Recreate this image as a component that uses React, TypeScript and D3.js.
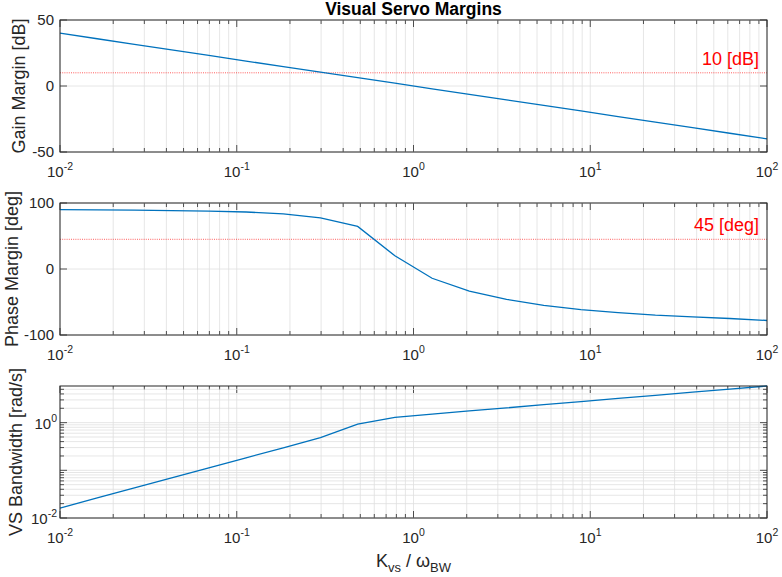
import * as d3 from "d3";

// sample points (logspace over four decades)
const kvs = [
  0.01, 0.01624, 0.02637, 0.04281, 0.06952, 0.1129, 0.1833, 0.2976, 0.4833, 0.7848,
  1.274, 2.069, 3.36, 5.456, 8.859, 14.38, 23.36, 37.93, 61.58, 100,
];
const gainMargin = [
  40, 35.8, 31.6, 27.4, 23.2, 18.9, 14.7, 10.5, 6.3, 2.1,
  -2.1, -6.3, -10.5, -14.7, -18.9, -23.2, -27.4, -31.6, -35.8, -40,
];
const phaseMargin = [
  90, 89.6, 89.1, 88.5, 87.6, 86.4, 83.5, 77.4, 64.5, 20,
  -14, -33.5, -46, -55, -61.5, -66, -70, -72.5, -75, -78,
];
const bandwidth = [
  0.0162, 0.0263, 0.0427, 0.0694, 0.113, 0.183, 0.297, 0.485, 0.93, 1.29,
  1.51, 1.76, 2.04, 2.38, 2.76, 3.22, 3.74, 4.35, 5.06, 5.87,
];

const xTicks = [0.01, 0.1, 1, 10, 100];
const gainTicks = [-50, 0, 50];
const phaseTicks = [-100, 0, 100];
const bwMajor = [0.01, 0.1, 1];
const bwLabels = [0.01, 1];
const gainLimit = 10;
const phaseLimit = 45;

const W = 782;
const H = 577;
const left = 60;
const right = 767;
const panelH = 132;
const tops = [20, 203, 386];

const FONT = "'Liberation Sans', Arial, Helvetica, sans-serif";
const AX = "#262626";
const GRID = "#dfdfdf";
const BLUE = "#0072BD";

const x = d3.scaleLog().domain([0.01, 100]).range([left, right]);
const xMinor: number[] = [];
for (let d = -2; d < 2; d++) for (let m = 2; m <= 9; m++) xMinor.push(m * Math.pow(10, d));

const exp = (v: number) => Math.round(Math.log10(v));

function Pow({ v, ...rest }: any) {
  return (
    <text {...rest}>
      <tspan>10</tspan>
      <tspan dy={-7} fontSize={10.5}>{exp(v)}</tspan>
    </text>
  );
}

function XAxis({ top }: { top: number }) {
  const bottom = top + panelH;
  return (
    <g>
      {xMinor.map((v) => (
        <g key={"m" + v}>
          <line x1={x(v)} x2={x(v)} y1={top} y2={bottom} stroke={GRID} strokeWidth={0.8} />
          <line x1={x(v)} x2={x(v)} y1={bottom} y2={bottom - 4} stroke={AX} strokeWidth={0.8} />
          <line x1={x(v)} x2={x(v)} y1={top} y2={top + 4} stroke={AX} strokeWidth={0.8} />
        </g>
      ))}
      {xTicks.map((v) => (
        <g key={"M" + v}>
          <line x1={x(v)} x2={x(v)} y1={top} y2={bottom} stroke={GRID} strokeWidth={0.8} />
          <line x1={x(v)} x2={x(v)} y1={bottom} y2={bottom - 7} stroke={AX} strokeWidth={0.8} />
          <line x1={x(v)} x2={x(v)} y1={top} y2={top + 7} stroke={AX} strokeWidth={0.8} />
          <Pow v={v} x={x(v)} y={bottom + 25} textAnchor="middle" fontSize={15} fill={AX} />
        </g>
      ))}
    </g>
  );
}

function LinearPanel({ top, domain, ticks, values, limit, limitText, label, labelX }: any) {
  const y = d3.scaleLinear().domain(domain).range([top + panelH, top]);
  const line = d3.line<number>().x((_, i) => x(kvs[i])).y((d) => y(d));
  return (
    <g>
      <XAxis top={top} />
      {ticks.map((t: number) => (
        <g key={t}>
          <line x1={left} x2={right} y1={y(t)} y2={y(t)} stroke={GRID} strokeWidth={0.8} />
          <line x1={left} x2={left + 7} y1={y(t)} y2={y(t)} stroke={AX} strokeWidth={0.8} />
          <line x1={right} x2={right - 7} y1={y(t)} y2={y(t)} stroke={AX} strokeWidth={0.8} />
          <text x={left - 6} y={y(t) + 5} textAnchor="end" fontSize={15} fill={AX}>{t}</text>
        </g>
      ))}
      <line x1={left} x2={right} y1={y(limit)} y2={y(limit)} stroke="#ff0000" strokeWidth={0.9} strokeDasharray="1,1.2" opacity={0.7} />
      <text x={right - 8} y={y(limit) - 8} textAnchor="end" fontSize={18} fill="#ff0000">{limitText}</text>
      <path d={line(values) || ""} fill="none" stroke={BLUE} strokeWidth={1.3} />
      <rect x={left} y={top} width={right - left} height={panelH} fill="none" stroke={AX} strokeWidth={1} />
      <text transform={`translate(${labelX},${top + panelH / 2}) rotate(-90)`} textAnchor="middle" fontSize={18} fill={AX}>{label}</text>
    </g>
  );
}

function LogPanel({ top }: { top: number }) {
  const y = d3.scaleLog().domain([0.01, bandwidth[bandwidth.length - 1]]).range([top + panelH, top]);
  const line = d3.line<number>().x((_, i) => x(kvs[i])).y((d) => y(d));
  const yMinor: number[] = [];
  for (let d = -2; d <= 0; d++)
    for (let m = 2; m <= 9; m++) {
      const v = m * Math.pow(10, d);
      if (v <= y.domain()[1]) yMinor.push(v);
    }
  return (
    <g>
      <XAxis top={top} />
      {yMinor.map((v) => (
        <g key={"m" + v}>
          <line x1={left} x2={right} y1={y(v)} y2={y(v)} stroke={GRID} strokeWidth={0.8} />
          <line x1={left} x2={left + 4} y1={y(v)} y2={y(v)} stroke={AX} strokeWidth={0.8} />
          <line x1={right} x2={right - 4} y1={y(v)} y2={y(v)} stroke={AX} strokeWidth={0.8} />
        </g>
      ))}
      {bwMajor.map((v) => (
        <g key={"M" + v}>
          <line x1={left} x2={right} y1={y(v)} y2={y(v)} stroke={GRID} strokeWidth={0.8} />
          <line x1={left} x2={left + 7} y1={y(v)} y2={y(v)} stroke={AX} strokeWidth={0.8} />
          <line x1={right} x2={right - 7} y1={y(v)} y2={y(v)} stroke={AX} strokeWidth={0.8} />
        </g>
      ))}
      {bwLabels.map((v) => (
        <Pow key={"L" + v} v={v} x={left - 3} y={y(v) + 6} textAnchor="end" fontSize={15} fill={AX} />
      ))}
      <path d={line(bandwidth) || ""} fill="none" stroke={BLUE} strokeWidth={1.3} />
      <rect x={left} y={top} width={right - left} height={panelH} fill="none" stroke={AX} strokeWidth={1} />
      <text transform={`translate(22,${top + panelH / 2}) rotate(-90)`} textAnchor="middle" fontSize={18} fill={AX}>VS Bandwidth [rad/s]</text>
    </g>
  );
}

export default function App() {
  const cx = (left + right) / 2;
  return (
    <div style={{ position: "absolute", left: 0, top: 0 }}>
      <svg width={W} height={H} style={{ display: "block", background: "#fff" }} fontFamily={FONT}>
        <text x={cx} y={15} textAnchor="middle" fontSize={17.5} fontWeight="bold" fill="#000">Visual Servo Margins</text>
        <LinearPanel top={tops[0]} domain={[-50, 50]} ticks={gainTicks} values={gainMargin} limit={gainLimit} limitText="10 [dB]" label="Gain Margin [dB]" labelX={25} />
        <LinearPanel top={tops[1]} domain={[-100, 100]} ticks={phaseTicks} values={phaseMargin} limit={phaseLimit} limitText="45 [deg]" label="Phase Margin [deg]" labelX={18} />
        <LogPanel top={tops[2]} />
        <text x={cx} y={567} textAnchor="middle" fontSize={18} fill={AX}>
          <tspan>K</tspan>
          <tspan dy={5} fontSize={13}>vs</tspan>
          <tspan dy={-5}> / ω</tspan>
          <tspan dy={5} fontSize={13}>BW</tspan>
        </text>
      </svg>
    </div>
  );
}
